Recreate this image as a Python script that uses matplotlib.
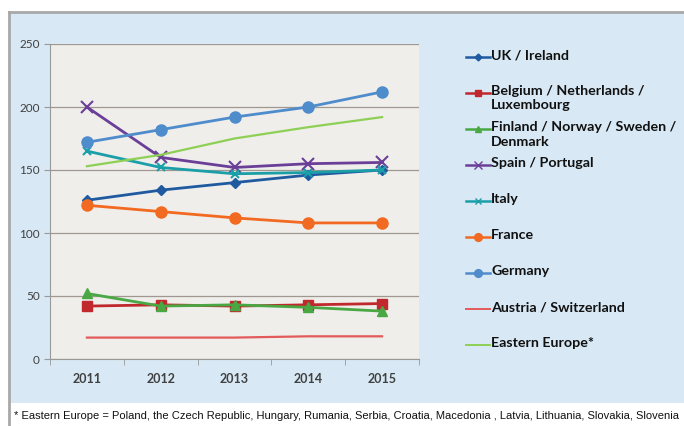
import matplotlib.pyplot as plt
from matplotlib.patches import Rectangle
from matplotlib.lines import Line2D

years = ["2011", "2012", "2013", "2014", "2015"]

uk_ireland = [126, 134, 140, 146, 150]
benelux = [42, 43, 42, 43, 44]
nordic = [52, 42, 43, 41, 38]
spain_portugal = [200, 160, 152, 155, 156]
italy = [165, 152, 147, 148, 150]
france = [122, 117, 112, 108, 108]
germany = [172, 182, 192, 200, 212]
austria_swiss = [17, 17, 17, 18, 18]
eastern_europe = [153, 162, 175, 184, 192]

labels = ["UK / Ireland", "Belgium / Netherlands /\nLuxembourg",
          "Finland / Norway / Sweden /\nDenmark", "Spain / Portugal", "Italy",
          "France", "Germany", "Austria / Switzerland", "Eastern Europe*"]
series = [uk_ireland, benelux, nordic, spain_portugal, italy, france,
          germany, austria_swiss, eastern_europe]
colors = ["#1f5aa0", "#c0282e", "#4aa844", "#6b3f98", "#1a9fa8",
          "#f26a21", "#4f8ccc", "#e35a5a", "#8dd055"]
markers = ["D", "s", "^", "x", "x", "o", "o", None, None]
msizes = [5, 7, 7, 8, 6, 8, 8, 0, 0]

footnote = ("* Eastern Europe = Poland, the Czech Republic, Hungary, Rumania, Serbia, "
            "Croatia, Macedonia , Latvia, Lithuania, Slovakia, Slovenia")

plt.rcParams['font.family'] = ['Lato', 'DejaVu Sans']

W, H = 684, 426
fig = plt.figure(figsize=(6.84, 4.26), dpi=100)
fig.patch.set_facecolor("white")
# light blue panel with gray frame
fig.patches.append(Rectangle((9/W, 1 - 403/H), 1, (403 - 12)/H,
                             transform=fig.transFigure, facecolor="#d8e9f5",
                             edgecolor="none", zorder=-10))
fig.lines.append(Line2D([9/W, 9/W], [0, 1 - 12/H], transform=fig.transFigure,
                        color="#a8a8a8", lw=2, zorder=-5))
fig.lines.append(Line2D([9/W, 1], [1 - 12/H, 1 - 12/H], transform=fig.transFigure,
                        color="#a8a8a8", lw=2, zorder=-5))

ax = fig.add_axes([50/W, 1 - 359/H, (419 - 50)/W, (359 - 44)/H])
ax.set_facecolor("#efeeeb")
x = range(len(years))
for vals, lab, c, m, ms in zip(series, labels, colors, markers, msizes):
    ax.plot(x, vals, color=c, lw=2 if m else 1.6, marker=m, markersize=ms,
            markeredgewidth=1.5 if m == "x" else 1, label=lab)

ax.set_xlim(-0.5, 4.5)
ax.set_ylim(0, 250)
ax.set_yticks(range(0, 251, 50))
ax.set_xticks(x)
ax.set_xticklabels(years, fontsize=9, fontweight="bold", color="#404040")
ax.set_xticks([i + 0.5 for i in range(-1, 5)], minor=True)
ax.tick_params(axis="x", which="major", length=0, pad=10)
ax.tick_params(axis="x", which="minor", length=4, color="#999999")
ax.tick_params(axis="y", length=4, color="#999999", labelsize=8.5, labelcolor="#404040")
ax.grid(axis="y", color="#a09890", lw=0.9)
ax.set_axisbelow(True)
for s in ["top", "right"]:
    ax.spines[s].set_visible(False)
ax.spines["left"].set_color("#999999")
ax.spines["bottom"].set_color("#999999")

# legend, one entry every 36 px
for i, (lab, c, m, ms) in enumerate(zip(labels, colors, markers, msizes)):
    yy = 1 - (57 + 36 * i) / H
    fig.lines.append(Line2D([466/W, 490/W], [yy, yy], transform=fig.transFigure,
                            color=c, lw=1.8 if m else 1.4))
    if m:
        fig.lines.append(Line2D([478/W], [yy], transform=fig.transFigure, color=c,
                                marker=m, markersize=ms * 0.7, lw=0))
    fig.text(491/W, yy + 8/H, lab, fontsize=10.3, fontweight="bold", va="top",
             ha="left", linespacing=1.25, color="#111111")

fig.text(14/W, 1 - 416/H, footnote, fontsize=8, family="Liberation Sans",
         va="center", ha="left", color="#111111")

fig.savefig("out.png", dpi=100)
